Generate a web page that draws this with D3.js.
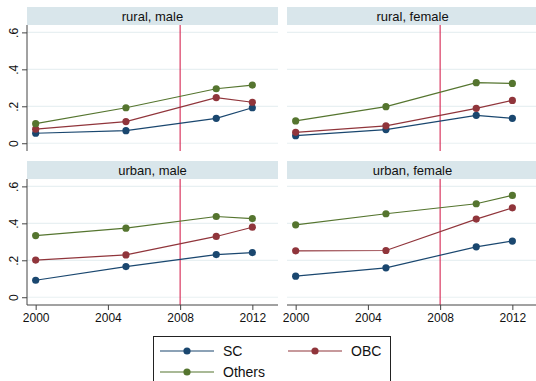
<!DOCTYPE html>
<html>
<head>
<meta charset="utf-8">
<script src="https://cdn.jsdelivr.net/npm/d3@7"></script>
<style>
  html, body { margin: 0; padding: 0; background: #fff; }
  svg { display: block; font-family: "Liberation Sans", Arial, Helvetica, sans-serif; }
</style>
</head>
<body>
<svg id="chart" width="536" height="381"></svg>
<script>
// Survey years and facet labels (row-major: rural male, rural female, urban male, urban female)
const years = [2000, 2005, 2010, 2012];
const panelTitles = ["rural, male", "rural, female", "urban, male", "urban, female"];
const groups = ["SC", "OBC", "Others"];
const groupColors = ["#1a476f", "#90353b", "#55752f"];

// Share by group, one row per panel, one value per survey year
const scValues = [
  [0.054, 0.068, 0.135, 0.192],
  [0.041, 0.074, 0.151, 0.135],
  [0.092, 0.166, 0.231, 0.242],
  [0.114, 0.159, 0.273, 0.304]
];
const obcValues = [
  [0.076, 0.117, 0.247, 0.222],
  [0.059, 0.094, 0.189, 0.232],
  [0.201, 0.229, 0.329, 0.379],
  [0.251, 0.253, 0.423, 0.484]
];
const othersValues = [
  [0.106, 0.192, 0.295, 0.315],
  [0.121, 0.198, 0.328, 0.324],
  [0.334, 0.374, 0.437, 0.426],
  [0.392, 0.452, 0.506, 0.551]
];

const xTicks = [2000, 2004, 2008, 2012];
const yTicks = [0, 0.2, 0.4, 0.6];
const markerYear = 2008;

const seriesValues = [scValues, obcValues, othersValues];

const svg = d3.select("#chart");

// Facet geometry
const panelW = 251, headerH = 18, plotH = 126;
const colX = [27, 287];
const rowY = [7, 161];

const x = d3.scaleLinear().domain([1999.52, 2013.42]).range([0, panelW]);
const y = d3.scaleLinear().domain([-0.042, 0.64]).range([plotH, 0]);

const fmtY = d => d === 0 ? "0" : d3.format(".1f")(d).replace(/^0/, "");

panelTitles.forEach((title, i) => {
  const row = Math.floor(i / 2), col = i % 2;
  const g = svg.append("g")
    .attr("transform", `translate(${colX[col]},${rowY[row]})`);

  // Header strip
  g.append("rect")
    .attr("x", 0).attr("y", 0)
    .attr("width", panelW).attr("height", headerH)
    .attr("fill", "#d9e6eb");
  g.append("text")
    .attr("x", panelW / 2).attr("y", headerH / 2 + 4.5)
    .attr("text-anchor", "middle")
    .attr("font-size", 13)
    .attr("fill", "#111")
    .text(title);

  const plot = g.append("g").attr("transform", `translate(0,${headerH})`);

  // Horizontal gridlines
  plot.selectAll("line.grid")
    .data(yTicks)
    .join("line")
    .attr("class", "grid")
    .attr("x1", 0).attr("x2", panelW)
    .attr("y1", d => y(d)).attr("y2", d => y(d))
    .attr("stroke", "#e8f0f2")
    .attr("stroke-width", 1.2);

  // Reference line at the policy year
  plot.append("line")
    .attr("x1", x(markerYear)).attr("x2", x(markerYear))
    .attr("y1", 0).attr("y2", plotH)
    .attr("stroke", "#d62652")
    .attr("stroke-width", 1.1);

  // Series lines and markers
  const line = d3.line().x((d, k) => x(years[k])).y(d => y(d));
  seriesValues.forEach((vals, s) => {
    const v = vals[i];
    plot.append("path")
      .datum(v)
      .attr("d", line)
      .attr("fill", "none")
      .attr("stroke", groupColors[s])
      .attr("stroke-width", 1.2);
    plot.selectAll(null)
      .data(v)
      .join("circle")
      .attr("cx", (d, k) => x(years[k]))
      .attr("cy", d => y(d))
      .attr("r", 3.6)
      .attr("fill", groupColors[s]);
  });

  // Y axis on the left column only
  if (col === 0) {
    const ya = plot.append("g")
      .call(d3.axisLeft(y).tickValues(yTicks).tickFormat(fmtY).tickSize(5).tickSizeOuter(0));
    ya.select(".domain").attr("stroke", "#444").attr("d", `M0,0V${plotH}`);
    ya.selectAll(".tick line").attr("stroke", "#444");
    ya.selectAll(".tick text")
      .attr("font-size", 12)
      .attr("fill", "#111")
      .attr("font-family", "Liberation Sans, Arial, sans-serif")
      .attr("text-anchor", "middle")
      .attr("transform", "rotate(-90)")
      .attr("x", 0)
      .attr("y", -9)
      .attr("dy", 0);
    // rotate labels about their tick: translate handled by tick groups
  }

  // X axis on the bottom row only
  if (row === 1) {
    const xa = plot.append("g")
      .attr("transform", `translate(0,${plotH})`)
      .call(d3.axisBottom(x).tickValues(xTicks).tickFormat(d3.format("d")).tickSize(5).tickSizeOuter(0));
    xa.select(".domain").attr("stroke", "#444").attr("d", `M0,0H${panelW}`);
    xa.selectAll(".tick line").attr("stroke", "#444");
    xa.selectAll(".tick text")
      .attr("font-size", 12)
      .attr("fill", "#111")
      .attr("font-family", "Liberation Sans, Arial, sans-serif")
      .attr("y", 8)
      .attr("dy", "0.71em");
  }
});

// Legend
const legend = svg.append("g").attr("transform", "translate(153,336)");
legend.append("rect")
  .attr("x", 0.5).attr("y", 0.5)
  .attr("width", 237).attr("height", 60)
  .attr("fill", "#fff")
  .attr("stroke", "#222")
  .attr("stroke-width", 1);

const legendPos = [[7, 15], [135, 15], [7, 36]];
groups.forEach((name, s) => {
  const [lx, ly] = legendPos[s];
  const item = legend.append("g").attr("transform", `translate(${lx},${ly})`);
  item.append("line")
    .attr("x1", 0).attr("x2", 54)
    .attr("y1", 0).attr("y2", 0)
    .attr("stroke", groupColors[s])
    .attr("stroke-width", 1.2);
  item.append("circle")
    .attr("cx", 27).attr("cy", 0).attr("r", 3.6)
    .attr("fill", groupColors[s]);
  item.append("text")
    .attr("x", 63).attr("y", 5)
    .attr("font-size", 14)
    .attr("fill", "#111")
    .text(name);
});
</script>
</body>
</html>
